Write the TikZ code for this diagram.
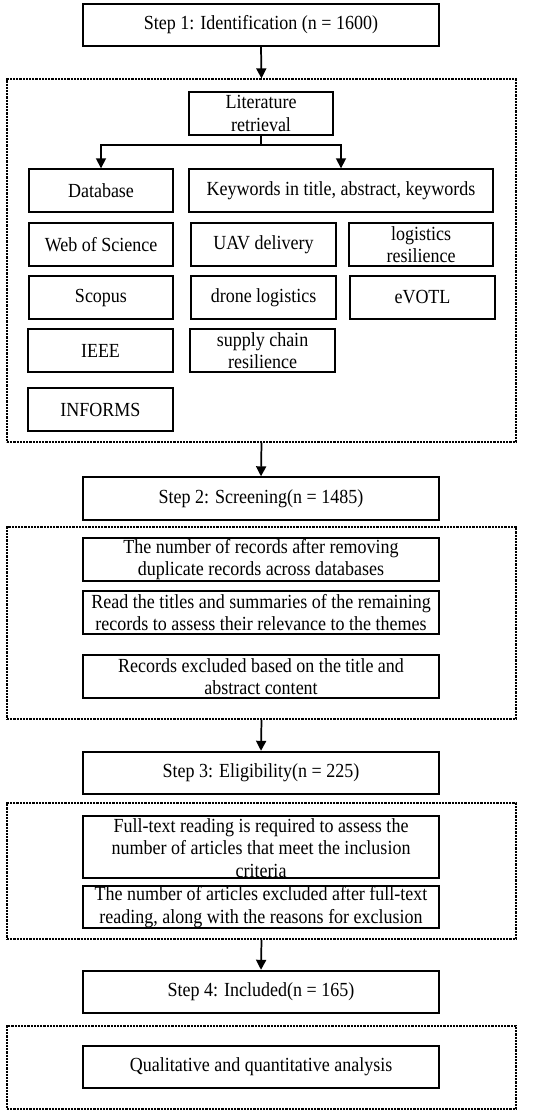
\documentclass[tikz,border=0pt]{standalone}
\usepackage{fontspec}
\setmainfont{Liberation Serif}[FakeStretch=0.9]
\usetikzlibrary{arrows.meta}
\tikzset{
  box/.style={draw, line width=1.3pt, inner xsep=1pt, inner ysep=0pt, align=center,
    font=\fontsize{15}{17}\selectfont, minimum height=32pt},
  wide/.style={box, minimum width=267pt},
  small/.style={box, minimum width=108.5pt},
  plain/.style={align=center, inner sep=0pt, font=\fontsize{15}{16.8}\selectfont},
  dbox/.style={draw, line width=0.9pt, dash pattern=on 1.6pt off 0.8pt, inner sep=0pt, minimum width=381.75pt},
  arr/.style={line width=1.3pt, -{Triangle[length=7.5pt,width=7.5pt]}}
}
\begin{document}
\begin{tikzpicture}[x=0.75pt,y=-0.75pt]
\useasboundingbox (0,0) rectangle (550,1115);
% containers
\node[dbox, minimum height=272.25pt] (d1) at (261.5,260.5) {};
\node[dbox, minimum height=144pt] (d2) at (261.5,623) {};
\node[dbox, minimum height=102pt] (d3) at (261.5,871) {};
\node[dbox, minimum height=62.25pt] (d4) at (261.5,1067.5) {};
% steps
\node[wide] (s1) at (261,25) {Step 1: Identification (n = 1600)};
\node[wide] (s2) at (261,498.5) {Step 2: Screening(n = 1485)};
\node[wide] (s3) at (261,773) {Step 3: Eligibility(n = 225)};
\node[wide] (s4) at (261,992) {Step 4: Included(n = 165)};
% step 1 content
\node[small] (lit) at (261,113.5) {Literature\\retrieval};
\node[small] (db) at (101,190.5) {Database};
\node[box, minimum width=228pt] (kw) at (341,190.5) {Keywords in title, abstract, keywords};
\node[small] (wos) at (101,244.5) {Web of Science};
\node[small] (uav) at (263.5,244.5) {UAV delivery};
\node[small] (lr) at (421,244.5) {logistics\\resilience};
\node[small] (sco) at (101,297.5) {Scopus};
\node[small] (dl) at (263.5,297.5) {drone logistics};
\node[small] (ev) at (422.5,297.5) {eVOTL};
\node[small] (ieee) at (100.5,350.5) {IEEE};
\node[small] (scr) at (262.5,350.5) {supply chain\\resilience};
\node[small] (inf) at (100.5,409.5) {INFORMS};
% step 2 content
\node[wide] (r1) at (261,559.5) {The number of records after removing\\duplicate records across databases};
\node[wide] (r2) at (261,612.5) {Read the titles and summaries of the remaining\\records to assess their relevance to the themes};
\node[wide] (r3) at (261,676.5) {Records excluded based on the title and\\abstract content};
% step 3 content
\node[wide, minimum height=46.5pt] (f1) at (261,847) {};
\node[plain] (f1t) at (261,848) {Full-text reading is required to assess the\\number of articles that meet the inclusion\\criteria};
\node[wide] (f2) at (261,907) {The number of articles excluded after full-text\\reading, along with the reasons for exclusion};
% step 4 content
\node[wide] (q) at (261,1067) {Qualitative and quantitative analysis};
% connectors
\draw[arr] (s1.south) -- (d1.north);
\coordinate (br) at (261,145);
\draw[line width=1.3pt] (lit.south) -- (br);
\draw[arr] (br) -| (db.north);
\draw[arr] (br) -| (kw.north);
\draw[arr] (d1.south) -- (s2.north);
\draw[arr] (d2.south) -- (s3.north);
\draw[arr] (d3.south) -- (s4.north);
\end{tikzpicture}
\end{document}
